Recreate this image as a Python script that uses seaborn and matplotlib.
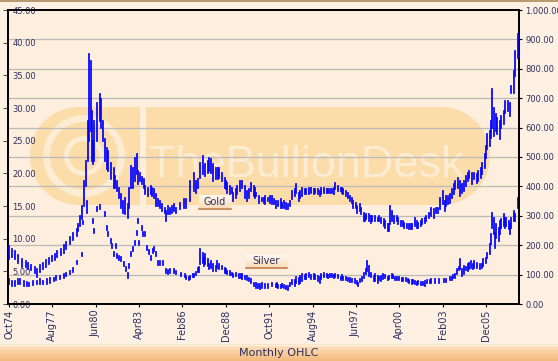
import matplotlib
matplotlib.use("Agg")
import matplotlib.pyplot as plt
import numpy as np
import pandas as pd
import seaborn as sns
from matplotlib.patches import Rectangle, Circle, Wedge
from matplotlib.lines import Line2D
from matplotlib.colors import LinearSegmentedColormap
from matplotlib.transforms import blended_transform_factory, Affine2D
from matplotlib import font_manager

# ---------------- data (monthly high / low) ----------------
gold_month = ["1974-10","1974-12","1975-03","1975-05","1975-08","1975-11","1976-01","1976-03","1976-06","1976-08",
"1976-10","1977-01","1977-03","1977-05","1977-08","1977-10","1977-12","1978-03","1978-05","1978-07",
"1978-10","1978-12","1979-03","1979-04","1979-06","1979-07","1979-09","1979-10","1979-12","1980-01",
"1980-02","1980-03","1980-04","1980-05","1980-07","1980-09","1980-10","1980-12","1981-01","1981-03",
"1981-04","1981-06","1981-08","1981-09","1981-11","1981-12","1982-02","1982-03","1982-05","1982-07",
"1982-08","1982-10","1982-11","1983-01","1983-02","1983-03","1983-05","1983-06","1983-08","1983-09",
"1983-11","1984-01","1984-02","1984-04","1984-05","1984-07","1984-08","1984-10","1984-12","1985-01",
"1985-03","1985-04","1985-06","1985-07","1985-09","1985-12","1986-03","1986-05","1986-08","1986-11",
"1987-01","1987-02","1987-04","1987-06","1987-08","1987-10","1987-11","1987-12","1988-02","1988-04",
"1988-06","1988-07","1988-09","1988-11","1988-12","1989-01","1989-03","1989-05","1989-06","1989-08",
"1989-09","1989-11","1990-01","1990-03","1990-05","1990-06","1990-08","1990-10","1990-11","1990-12",
"1991-02","1991-04","1991-06","1991-07","1991-09","1991-11","1991-12","1992-02","1992-03","1992-05",
"1992-07","1992-08","1992-10","1992-11","1993-01","1993-02","1993-04","1993-06","1993-07","1993-09",
"1993-10","1993-12","1994-02","1994-03","1994-05","1994-07","1994-09","1994-10","1994-12","1995-02",
"1995-03","1995-05","1995-07","1995-08","1995-10","1995-11","1996-01","1996-02","1996-04","1996-06",
"1996-07","1996-08","1996-10","1996-12","1997-01","1997-03","1997-04","1997-06","1997-07","1997-09",
"1997-10","1997-12","1998-01","1998-02","1998-04","1998-06","1998-07","1998-09","1998-11","1998-12",
"1999-02","1999-04","1999-05","1999-07","1999-08","1999-09","1999-10","1999-12","2000-02","2000-03",
"2000-05","2000-07","2000-08","2000-10","2000-12","2001-01","2001-02","2001-04","2001-06","2001-07",
"2001-09","2001-10","2001-12","2002-01","2002-03","2002-05","2002-07","2002-09","2002-10","2002-12",
"2003-02","2003-04","2003-05","2003-06","2003-08","2003-09","2003-11","2003-12","2004-02","2004-04",
"2004-05","2004-07","2004-08","2004-10","2004-11","2005-01","2005-03","2005-05","2005-06","2005-08",
"2005-09","2005-11","2005-12","2006-01","2006-03","2006-04","2006-05","2006-06","2006-08","2006-09",
"2006-11","2006-12","2007-02","2007-03","2007-05","2007-07","2007-08","2007-10","2007-11","2008-01"]
gold_high = [198,188,181,168,154,147,141,134,127,120,
134,141,151,158,164,171,181,188,202,212,
229,242,256,273,300,334,419,486,622,849,
825,656,554,622,683,714,697,622,561,531,
520,480,463,436,419,395,375,351,361,341,
395,470,463,497,510,453,446,432,425,402,
395,402,395,392,375,358,351,341,327,317,
334,327,334,341,327,344,358,358,419,446,
419,425,480,503,476,486,497,493,476,463,
463,463,446,429,419,412,402,395,378,392,
402,419,419,402,385,392,412,402,395,378,
368,361,361,368,361,368,368,358,351,351,
358,344,351,344,341,351,385,392,408,378,
385,395,392,392,395,395,392,392,392,385,
395,395,392,392,392,392,395,412,402,395,
395,392,385,378,368,361,351,344,334,341,
327,310,300,307,307,300,300,300,293,300,
293,290,283,273,273,334,317,300,300,293,
283,283,276,273,273,273,273,293,283,276,
283,290,293,300,310,327,324,327,327,361,
385,351,368,368,375,392,408,419,429,419,
408,419,436,446,453,446,446,442,453,463,
480,510,537,578,588,622,731,666,646,632,
622,639,656,690,690,683,741,792,859,917]
gold_low = [154,161,154,141,127,127,120,114,107,93,
110,120,127,137,147,151,161,168,175,188,
205,219,232,249,266,290,334,402,486,554,
588,486,476,486,554,622,598,554,486,459,
453,425,395,395,385,361,327,310,307,293,
327,395,395,419,442,408,419,408,395,375,
368,375,368,361,334,334,327,317,310,283,
307,307,310,317,310,324,327,327,351,385,
378,395,429,442,436,446,453,446,419,425,
425,429,419,395,392,378,375,378,351,361,
375,385,395,361,351,361,385,368,361,368,
344,351,344,341,351,344,341,341,327,334,
327,327,327,324,324,334,358,368,378,351,
361,368,375,375,375,378,375,378,375,368,
375,378,378,378,378,378,375,392,385,385,
378,375,368,361,351,344,327,327,310,317,
307,283,283,290,283,276,283,283,283,283,
276,266,259,249,249,273,283,276,283,273,
266,266,259,259,256,256,256,266,259,259,
266,273,276,283,293,300,293,310,310,324,
341,317,334,341,344,361,375,392,395,368,
378,385,402,419,429,408,425,412,419,429,
442,463,497,527,537,564,598,570,588,578,
561,598,612,649,656,639,717,717,775,836]

silver_month = ["1974-10","1974-12","1975-03","1975-05","1975-07","1975-10","1975-12","1976-02","1976-05","1976-08",
"1976-10","1977-01","1977-04","1977-06","1977-09","1977-11","1978-02","1978-05","1978-07","1978-10",
"1978-12","1979-03","1979-07","1979-08","1979-11","1980-04","1980-05","1980-07","1980-09","1981-01",
"1981-03","1981-04","1981-06","1981-07","1981-08","1981-10","1981-11","1981-12","1982-02","1982-04",
"1982-06","1982-07","1982-08","1982-10","1982-11","1983-01","1983-02","1983-03","1983-04","1983-06",
"1983-07","1983-09","1983-10","1983-12","1984-01","1984-03","1984-04","1984-05","1984-07","1984-08",
"1984-11","1985-01","1985-03","1985-04","1985-07","1985-09","1986-01","1986-04","1986-05","1986-07",
"1986-08","1986-10","1986-11","1987-01","1987-02","1987-03","1987-04","1987-06","1987-07","1987-08",
"1987-10","1987-11","1987-12","1988-02","1988-04","1988-05","1988-07","1988-09","1988-11","1988-12",
"1989-01","1989-03","1989-05","1989-06","1989-08","1989-10","1989-12","1990-01","1990-03","1990-05",
"1990-06","1990-08","1990-10","1990-12","1991-01","1991-03","1991-04","1991-07","1991-09","1991-12",
"1992-03","1992-04","1992-05","1992-07","1992-08","1992-10","1992-11","1993-01","1993-02","1993-04",
"1993-06","1993-07","1993-09","1993-10","1993-12","1994-02","1994-03","1994-05","1994-07","1994-09",
"1994-10","1994-12","1995-02","1995-03","1995-05","1995-07","1995-08","1995-10","1995-11","1996-01",
"1996-02","1996-04","1996-06","1996-07","1996-08","1996-10","1996-12","1997-01","1997-03","1997-05",
"1997-07","1997-08","1997-09","1997-11","1997-12","1998-02","1998-03","1998-04","1998-06","1998-08",
"1998-09","1998-11","1998-12","1999-02","1999-03","1999-05","1999-07","1999-08","1999-10","1999-11",
"2000-01","2000-02","2000-04","2000-06","2000-07","2000-09","2000-11","2000-12","2001-02","2001-03",
"2001-04","2001-06","2001-07","2001-09","2001-11","2001-12","2002-02","2002-04","2002-05","2002-08",
"2002-11","2003-03","2003-05","2003-08","2003-09","2003-10","2003-12","2004-01","2004-03","2004-04",
"2004-05","2004-07","2004-08","2004-10","2004-11","2004-12","2005-02","2005-03","2005-05","2005-07",
"2005-09","2005-10","2005-12","2006-01","2006-03","2006-04","2006-05","2006-06","2006-07","2006-08",
"2006-10","2006-11","2006-12","2007-02","2007-03","2007-04","2007-06","2007-07","2007-08","2007-10",
"2007-11","2008-01"]
silver_high = [3.89,3.58,3.58,3.89,3.89,3.58,3.43,3.28,3.58,3.58,
3.89,3.58,3.89,4.04,4.04,4.35,4.35,4.65,4.80,5.11,
5.57,6.63,7.85,12.73,15.78,13.04,11.51,14.87,15.17,14.11,
11.97,11.06,9.99,9.23,8.01,9.23,7.70,7.40,7.24,6.48,
5.72,4.80,6.18,8.01,8.77,9.68,11.21,13.04,9.68,11.97,
11.06,11.06,8.92,8.31,7.40,8.46,8.77,8.01,6.63,6.63,
6.63,5.41,5.26,5.41,5.41,5.11,4.80,4.65,4.35,4.19,
4.35,4.65,4.65,4.96,5.57,5.72,8.46,7.85,7.09,7.70,
6.94,6.18,6.63,6.18,5.87,6.63,6.18,5.87,5.57,5.41,
5.11,5.11,4.80,4.65,4.80,4.65,4.65,4.65,4.35,4.35,
4.04,3.89,3.28,3.28,3.13,3.13,3.28,3.13,3.13,3.28,
3.13,3.28,2.97,2.97,3.13,2.97,2.82,2.82,3.28,3.74,
3.74,4.19,4.04,4.35,4.65,4.50,4.65,4.80,4.50,4.65,
4.50,4.35,4.19,4.65,4.80,4.65,4.50,4.65,4.65,4.50,
4.65,4.50,4.19,4.50,4.19,4.19,4.04,4.04,3.89,3.89,
3.58,3.28,3.89,4.19,4.80,5.41,6.63,5.87,4.80,4.35,
4.65,4.35,4.19,4.35,4.65,4.50,4.19,4.35,4.65,4.50,
4.19,4.19,4.19,4.04,4.04,4.04,3.89,3.74,3.74,3.74,
3.58,3.43,3.58,3.43,3.43,3.58,3.74,3.74,3.89,3.89,
3.89,3.89,3.89,4.19,4.19,4.50,4.65,5.41,5.72,6.94,
5.41,5.87,5.72,6.18,6.33,6.63,6.18,6.63,6.33,6.18,
6.18,6.94,7.09,7.85,9.23,10.75,13.95,13.19,10.90,12.28,
11.67,12.73,13.04,13.80,13.19,13.19,12.73,12.28,13.19,14.26,
13.80,16.24]
silver_low = [3.13,2.82,2.82,3.13,3.13,2.82,2.82,2.82,2.97,3.13,
3.13,3.13,3.13,3.28,3.58,3.74,3.89,4.04,4.35,4.65,
4.96,6.18,7.40,12.28,13.95,12.43,10.90,14.26,14.56,13.50,
11.36,10.45,9.38,8.62,7.40,8.62,7.09,6.79,6.63,5.87,
5.11,4.04,5.57,7.40,8.16,9.07,10.60,12.43,9.07,11.36,
10.45,10.45,8.31,7.70,6.79,7.85,8.16,7.40,6.02,6.02,
6.02,4.80,4.65,4.80,4.80,4.65,4.35,4.19,3.89,3.74,
3.89,4.19,4.19,4.50,4.96,4.96,6.18,6.33,5.87,6.18,
5.87,5.41,5.57,5.11,5.11,5.57,5.41,5.41,4.80,4.80,
4.65,4.50,4.50,4.19,4.35,4.04,4.04,3.89,3.89,3.74,
3.58,3.28,2.82,2.52,2.52,2.36,2.52,2.52,2.52,2.82,
2.67,2.67,2.52,2.52,2.67,2.52,2.36,2.21,2.82,3.13,
2.82,3.28,3.13,3.28,3.58,3.89,3.89,4.19,3.89,3.89,
3.89,3.58,3.28,3.89,4.19,4.19,4.04,4.19,4.19,4.04,
4.19,4.04,3.74,4.04,3.74,3.74,3.58,3.43,3.43,3.28,
3.13,2.82,3.43,3.58,4.04,4.65,5.11,4.35,4.19,3.58,
3.58,3.28,3.74,3.58,3.89,4.04,3.74,3.89,4.04,4.04,
3.74,3.74,3.74,3.58,3.58,3.58,3.43,3.28,3.13,3.28,
3.13,2.97,3.13,2.97,2.97,2.82,3.28,3.28,3.28,3.28,
3.28,3.43,3.43,3.74,3.74,4.04,4.04,4.65,5.26,5.41,
4.35,4.65,5.26,5.11,5.41,5.57,5.41,5.57,5.57,5.41,
5.57,5.87,6.33,7.09,7.70,9.23,11.67,10.75,8.62,10.14,
9.68,10.75,11.67,11.97,11.67,11.97,11.51,10.75,11.67,12.73,
12.73,14.72]

x_tick_labels = ["Oct74","Aug77","Jun80","Apr83","Feb86","Dec88","Oct91","Aug94","Jun97","Apr00","Feb03","Dec05"]
silver_ticks = [0, 5, 10, 15, 20, 25, 30, 35, 40, 45]
gold_ticks = [0, 100, 200, 300, 400, 500, 600, 700, 800, 900, 1000]
title_text = "Monthly OHLC"
series_names = ["Gold", "Silver"]

# ---------------- helpers ----------------
W, H = 558, 361
BG = "#FDEEDD"
FIGBG = "#FEF1E3"
ORANGE = "#FCDCA8"
CREAM = "#FBECD3"
NAVY = "#2E2E60"
BLUE = "#0000FF"
GRID = "#BBBBBB"


def month_index(s):
    y, m = s.split("-")
    return (int(y) - 1974) * 12 + int(m) - 10


def label_index(lab):
    d = pd.to_datetime(lab, format="%b%y")
    return (d.year - 1974) * 12 + d.month - 10


def bars_frame(months, highs, lows):
    rows = []
    for i, (mo, hi, lo) in enumerate(zip(months, highs, lows)):
        t = month_index(mo)
        rows.append({"t": t, "price": hi, "bar": i})
        rows.append({"t": t, "price": lo, "bar": i})
    return pd.DataFrame(rows)


gold_df = bars_frame(gold_month, gold_high, gold_low)
silver_df = bars_frame(silver_month, silver_high, silver_low)

fig = plt.figure(figsize=(W / 100, H / 100), dpi=100, facecolor=FIGBG)
pix = Affine2D().scale(1 / W, -1 / H).translate(0, 1) + fig.transFigure

ax = fig.add_axes([8 / W, 1 - 304 / H, 511 / W, 294 / H])
ax.set_facecolor(BG)
ax2 = ax.twinx()

# watermark (behind grid)
wm = [Circle((79, 156), 49), Rectangle((79, 107), 61, 98),
      Rectangle((146, 107), 295, 98), Circle((441, 156), 49)]
for p in wm:
    p.set_transform(pix); p.set_facecolor(ORANGE); p.set_edgecolor("none"); p.set_zorder(0.5)
    ax.add_patch(p)
for r, wdt in [(41, 7), (20, 5)]:
    w_ = Wedge((84, 156), r, 0, 360, width=wdt, transform=pix, facecolor=CREAM, edgecolor="none", zorder=0.55)
    ax.add_patch(w_)

try:
    font_manager.findfont(font_manager.FontProperties(family="Liberation Sans Narrow"), fallback_to_default=False)
    wm_family = "Liberation Sans Narrow"
except Exception:
    wm_family = "Liberation Sans"
wm_text = ax.text(148, 177, "TheBullionDesk", transform=pix, ha="left", va="baseline",
                  color=CREAM, fontsize=36, family=wm_family, zorder=0.6)

# gridlines at gold ticks
trans = blended_transform_factory(ax.transAxes, ax2.transData)
for g in gold_ticks[1:-1]:
    ax.add_line(Line2D([0, 1], [g, g], transform=trans, color=GRID, lw=0.9, zorder=1))

# data bars
sns.lineplot(data=silver_df, x="t", y="price", units="bar", estimator=None, sort=False,
             color=BLUE, lw=1.25, ax=ax, legend=False, solid_capstyle="projecting", zorder=3)
sns.lineplot(data=gold_df, x="t", y="price", units="bar", estimator=None, sort=False,
             color=BLUE, lw=1.25, ax=ax2, legend=False, solid_capstyle="projecting", zorder=3)

ax.set_xlim(-0.8, 399.9)
ax.set_ylim(0, 45)
ax2.set_ylim(0, 1000)
for a in (ax, ax2):
    a.set_xlabel(""); a.set_ylabel("")
    for sp in a.spines.values():
        sp.set_color("black"); sp.set_linewidth(1.3)

ax.set_xticks([label_index(l) for l in x_tick_labels], x_tick_labels, rotation=90,
              fontsize=7, color=NAVY, family="DejaVu Sans")
ax.tick_params(axis="x", direction="out", length=2.5, width=0.8, pad=1.5, color="black")

ax.set_yticks(silver_ticks, [f"{v:.2f}" for v in silver_ticks], fontsize=6, color=NAVY)
for lab in ax.get_yticklabels():
    lab.set_horizontalalignment("left")
ax.tick_params(axis="y", direction="out", length=3.6, width=0.8, pad=-6.6, color="#555555")

ax2.set_yticks(gold_ticks, [f"{v:,.2f}".replace(",", ".") for v in gold_ticks], fontsize=6, color=NAVY)
ax2.tick_params(axis="y", direction="out", length=2.2, width=0.8, pad=2.5, color="black")

# fit watermark text width
fig.canvas.draw()
bb = wm_text.get_window_extent()
wm_text.set_fontsize(36 * 316 / bb.width)

# series labels
def grad_axes(x0, y0, x1, y1, c_top, c_bot, z):
    a = fig.add_axes([x0 / W, 1 - y1 / H, (x1 - x0) / W, (y1 - y0) / H], zorder=z)
    cmap = LinearSegmentedColormap.from_list("g", [c_top, c_bot])
    a.imshow(np.linspace(0, 1, 32).reshape(-1, 1), aspect="auto", cmap=cmap,
             extent=[0, 1, 0, 1], origin="upper", interpolation="bilinear")
    a.set_axis_off()
    return a

for name, (x0, y0, x1, y1) in zip(series_names, [(199, 195, 231, 208), (246, 255, 287, 267)]):
    grad_axes(x0, y0, x1, y1, "#FFF8F0", "#FBDDB9", 2)
    fig.add_artist(Line2D([x0, x1], [y1 + 0.5, y1 + 0.5], transform=pix, color="#C0804A", lw=1.2, zorder=3))
    fig.text(((x0 + x1) / 2) / W, 1 - ((y0 + y1) / 2 + 0.5) / H, name, ha="center", va="center",
             fontsize=7, color=NAVY, zorder=6)

# bottom title band
grad_axes(0, 344, W, H, "#FDE3C4", "#F5BA7C", 2)
fig.add_artist(Line2D([0, W], [344.5, 344.5], transform=pix, color="#FFF4E8", lw=0.8, zorder=3))
fig.text(0.5, 1 - 353 / H, title_text, ha="center", va="center", fontsize=8, color=NAVY, zorder=6)

# top border
fig.add_artist(Rectangle((0, 0), W, 2, transform=pix, facecolor="#B89A70", edgecolor="none", zorder=3))

fig.savefig("out.png", dpi=100, facecolor=FIGBG)
